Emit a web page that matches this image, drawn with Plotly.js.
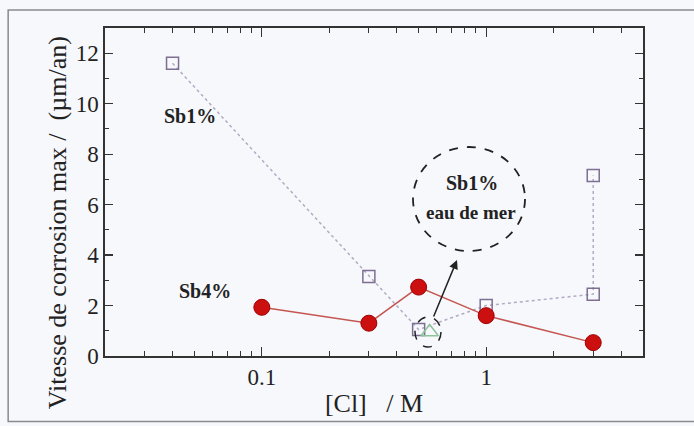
<!DOCTYPE html>
<html>
<head>
<meta charset="utf-8">
<script src="https://cdn.plot.ly/plotly-3.0.1.min.js"></script>
<style>html,body{margin:0;padding:0;background:#f6f8fc;}#chart{width:694px;height:426px;}</style>
</head>
<body>
<div id="chart"></div>
<script>
// Data
const sb1Conc = [0.04, 0.3, 0.5, 1, 3, 3];
const sb1Rate = [11.6, 3.15, 1.05, 2.0, 2.45, 7.15];
const sb4Conc = [0.1, 0.3, 0.5, 1, 3];
const sb4Rate = [1.93, 1.3, 2.73, 1.6, 0.53];
const seaConc = [0.56];
const seaRate = [0.95];
const xTickVals = [0.1, 1];
const xTickText = ['0.1', '1'];

const serif = '"Liberation Serif"';

const traces = [
  {
    x: sb1Conc, y: sb1Rate, mode: 'lines+markers', name: 'Sb1%',
    line: {color: '#b3aac4', width: 1.5, dash: 'dot'},
    marker: {symbol: 'square-open', size: 12, color: '#7e6e92', line: {width: 1.5}}
  },
  {
    x: sb4Conc, y: sb4Rate, mode: 'lines+markers', name: 'Sb4%',
    line: {color: '#c4554f', width: 1.5},
    marker: {symbol: 'circle', size: 16, color: '#cc1010', line: {color: '#a00000', width: 1}}
  },
  {
    x: seaConc, y: seaRate, mode: 'markers', name: 'Sb1% eau de mer',
    marker: {symbol: 'triangle-up-open', size: 15, color: '#8cc49a', line: {width: 1.5}}
  }
];

const layout = {
  width: 694, height: 426,
  paper_bgcolor: '#f6f8fc', plot_bgcolor: '#f6f8fc',
  showlegend: false,
  margin: {l: 105, r: 51, t: 28, b: 70},
  font: {family: serif, color: '#222'},
  xaxis: {
    type: 'log', range: [Math.log10(0.02), Math.log10(5)],
    tickvals: xTickVals, ticktext: xTickText,
    ticks: 'inside', ticklen: 9, tickwidth: 1.3, tickcolor: '#333',
    minor: {ticks: 'inside', ticklen: 5, tickwidth: 1.1, tickcolor: '#333', dtick: 'D1', showgrid: false},
    showline: true, linecolor: '#333', linewidth: 1.6, mirror: 'ticks',
    showgrid: false, zeroline: false,
    tickfont: {family: serif, size: 23, color: '#222'},
    title: {text: '[Cl]\u00a0\u00a0\u00a0/ M', font: {family: serif, size: 26, color: '#222'}, standoff: 4}
  },
  yaxis: {
    range: [0, 13], dtick: 2, tick0: 0,
    ticks: 'inside', ticklen: 8, tickwidth: 1.3, tickcolor: '#333',
    minor: {ticks: 'inside', ticklen: 4, tickwidth: 1.1, tickcolor: '#333', dtick: 1, showgrid: false},
    showline: true, linecolor: '#333', linewidth: 1.6, mirror: 'ticks',
    showgrid: false, zeroline: false,
    tickfont: {family: serif, size: 23, color: '#222'}
  },
  shapes: [
    {type: 'rect', xref: 'paper', yref: 'paper', x0: -0.18, x1: 1.2, y0: -0.2, y1: 1.055,
     line: {color: '#8a8a8a', width: 1.5}, layer: 'below'},
    {type: 'circle', xref: 'paper', yref: 'paper', x0: 0.5725, x1: 0.7807, y0: 0.3201, y1: 0.6372,
     line: {color: '#222', width: 1.8, dash: 'dash'}},
    {type: 'circle', xref: 'paper', yref: 'paper', x0: 0.5762, x1: 0.6245, y0: 0.0274, y1: 0.1189,
     line: {color: '#222', width: 1.5, dash: 'dash'}}
  ],
  annotations: [
    {text: 'Vitesse de corrosion max /\u00a0\u00a0(µm/an)', textangle: -90, xref: 'paper', yref: 'paper',
     x: -0.088, y: 0.407, xanchor: 'center', yanchor: 'middle', showarrow: false,
     font: {family: serif, size: 26, color: '#222'}},
    {text: '<b>Sb1%</b>', xref: 'paper', yref: 'paper', x: 0.158, y: 0.732, xanchor: 'center', yanchor: 'middle',
     showarrow: false, font: {family: serif, size: 20, color: '#222'}},
    {text: '<b>Sb4%</b>', xref: 'paper', yref: 'paper', x: 0.185, y: 0.197, xanchor: 'center', yanchor: 'middle',
     showarrow: false, font: {family: serif, size: 20, color: '#222'}},
    {text: '<b>Sb1%</b>', xref: 'paper', yref: 'paper', x: 0.682, y: 0.527, xanchor: 'center', yanchor: 'middle',
     showarrow: false, font: {family: serif, size: 20, color: '#222'}},
    {text: '<b>eau de mer</b>', xref: 'paper', yref: 'paper', x: 0.680, y: 0.439, xanchor: 'center', yanchor: 'middle',
     showarrow: false, font: {family: serif, size: 19, color: '#222'}},
    {text: '', xref: 'paper', yref: 'paper', x: 0.6543, y: 0.2927, ax: -24, ay: 58,
     showarrow: true, arrowhead: 2, arrowsize: 1.2, arrowwidth: 1.5, arrowcolor: '#222'}
  ]
};

Plotly.newPlot('chart', traces, layout, {displayModeBar: false, staticPlot: true});
</script>
</body>
</html>
